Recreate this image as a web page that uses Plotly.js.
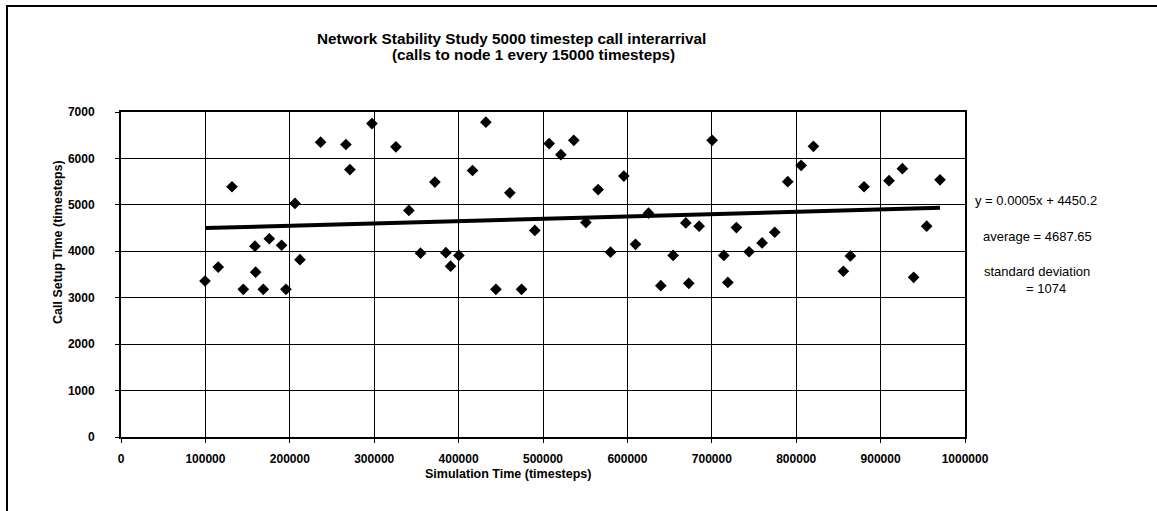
<!DOCTYPE html>
<html>
<head>
<meta charset="utf-8">
<script src="https://cdn.plot.ly/plotly-3.0.1.min.js"></script>
<style>
  html, body { margin: 0; padding: 0; background: #ffffff; }
  #chart { width: 1157px; height: 511px; }
</style>
</head>
<body>
<div id="chart"></div>
<script>
// ---- Data ----
const simTime = [99500, 115200, 131500, 144900, 158700, 159500, 168600, 175700, 190300, 195400,
  206100, 212000, 236500, 266500, 271200, 297300, 325700, 341100, 354900, 371900,
  384900, 390500, 400300, 416500, 432300, 444200, 460700, 474600, 490300, 507300,
  521200, 536500, 550800, 565300, 580000, 595800, 609600, 625000, 639600, 654200,
  669200, 672700, 685000, 700400, 714200, 719000, 729200, 744200, 759600, 774600,
  790000, 805800, 820400, 855900, 864200, 880400, 910000, 925800, 939200, 954600, 970400];
const setupTime = [3360, 3660, 5390, 3180, 4110, 3550, 3180, 4270, 4130, 3180,
  5030, 3820, 6350, 6300, 5760, 6750, 6250, 4880, 3960, 5490,
  3970, 3680, 3910, 5740, 6780, 3180, 5260, 3180, 4450, 6320,
  6080, 6390, 4620, 5330, 3980, 5620, 4150, 4820, 3260, 3910,
  4610, 3310, 4540, 6390, 3910, 3330, 4510, 3990, 4180, 4410,
  5500, 5850, 6260, 3570, 3900, 5390, 5520, 5780, 3440, 4540, 5540];
const trendSlope = 0.0005;
const trendIntercept = 4450.2;
const titleLines = ["Network Stability Study 5000 timestep call interarrival",
                    "(calls to node 1 every 15000 timesteps)"];
const xAxisTitle = "Simulation Time (timesteps)";
const yAxisTitle = "Call Setup Time (timesteps)";
const sideNotes = ["y = 0.0005x + 4450.2", "average = 4687.65", "standard deviation", "= 1074"];

// ---- Layout helpers (pixel -> paper) ----
const W = 1157, H = 511;
const M = {l: 121, r: 192, t: 112, b: 74};
const PW = W - M.l - M.r, PH = H - M.t - M.b;
const px = p => (p - M.l) / PW;
const py = p => (H - M.b - p) / PH;

const trendX = [Math.min(...simTime), Math.max(...simTime)];
const trendY = trendX.map(x => trendSlope * x + trendIntercept);

const FONT = "Liberation Sans, Arial, Helvetica, sans-serif";

const traces = [
  {
    x: simTime, y: setupTime, type: 'scatter', mode: 'markers',
    marker: {symbol: 'diamond', size: 9, color: '#000000', line: {width: 0}},
    hoverinfo: 'x+y', showlegend: false
  },
  {
    x: trendX, y: trendY, type: 'scatter', mode: 'lines',
    line: {color: '#000000', width: 4}, hoverinfo: 'skip', showlegend: false
  }
];

const axisCommon = {
  showline: true, linecolor: '#000000', linewidth: 2, mirror: true,
  showgrid: true, gridcolor: '#000000', gridwidth: 1,
  zeroline: false, ticks: 'outside', ticklen: 4, tickcolor: '#000000', tickwidth: 1,
  tickfont: {family: FONT, size: 12, color: '#000000', weight: 'bold'},
  tickformat: 'd'
};

const layout = {
  width: W, height: H,
  margin: M,
  paper_bgcolor: '#ffffff', plot_bgcolor: '#ffffff',
  font: {family: FONT, color: '#000000'},
  showlegend: false,
  xaxis: Object.assign({}, axisCommon, {range: [0, 1000000], dtick: 100000, tick0: 0, ticklabelstandoff: 6}),
  yaxis: Object.assign({}, axisCommon, {range: [0, 7000], dtick: 1000, tick0: 0, ticklabelstandoff: 18}),
  annotations: [
    {text: '<b>' + titleLines[0] + '</b>', x: px(511), y: py(38), xref: 'paper', yref: 'paper',
     xanchor: 'center', yanchor: 'middle', showarrow: false, font: {size: 15.3, family: FONT}},
    {text: '<b>' + titleLines[1] + '</b>', x: px(533), y: py(55), xref: 'paper', yref: 'paper',
     xanchor: 'center', yanchor: 'middle', showarrow: false, font: {size: 15.3, family: FONT}},
    {text: '<b>' + xAxisTitle + '</b>', x: px(508), y: py(474), xref: 'paper', yref: 'paper',
     xanchor: 'center', yanchor: 'middle', showarrow: false, font: {size: 12.5, family: FONT}},
    {text: '<b>' + yAxisTitle + '</b>', x: px(58), y: py(242), xref: 'paper', yref: 'paper',
     xanchor: 'center', yanchor: 'middle', showarrow: false, textangle: -90, font: {size: 12.5, family: FONT}},
    {text: sideNotes[0], x: px(973), y: py(200), xref: 'paper', yref: 'paper',
     xanchor: 'left', yanchor: 'middle', showarrow: false, font: {size: 13, family: FONT}},
    {text: sideNotes[1], x: px(1037), y: py(236), xref: 'paper', yref: 'paper',
     xanchor: 'center', yanchor: 'middle', showarrow: false, font: {size: 13, family: FONT}},
    {text: sideNotes[2], x: px(1037), y: py(271), xref: 'paper', yref: 'paper',
     xanchor: 'center', yanchor: 'middle', showarrow: false, font: {size: 13, family: FONT}},
    {text: sideNotes[3], x: px(1046), y: py(288), xref: 'paper', yref: 'paper',
     xanchor: 'center', yanchor: 'middle', showarrow: false, font: {size: 13, family: FONT}}
  ],
  shapes: [
    {type: 'line', xref: 'paper', yref: 'paper', x0: px(7), x1: px(7), y0: py(6), y1: py(H + 2),
     line: {color: '#000000', width: 2}},
    {type: 'line', xref: 'paper', yref: 'paper', x0: px(6), x1: px(W + 2), y0: py(6), y1: py(6),
     line: {color: '#000000', width: 2}}
  ]
};

Plotly.newPlot('chart', traces, layout, {displayModeBar: false, staticPlot: true});
</script>
</body>
</html>
